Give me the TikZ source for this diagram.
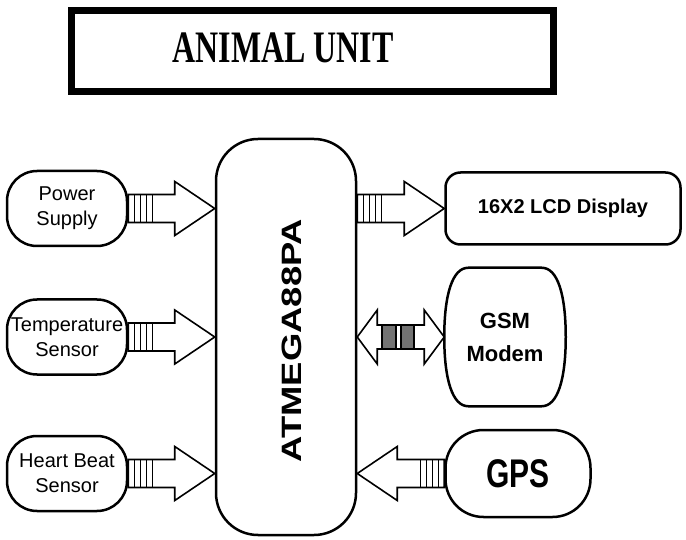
\documentclass[tikz,border=0pt]{standalone}
\usepackage{fontspec}
\setmainfont{Liberation Sans}
\newfontfamily\titlefont{Liberation Serif}
\usetikzlibrary{positioning,calc}
\tikzset{
    block/.style = {
        draw,
        line width=2.5pt,
        align=center,
        inner sep=2pt,
        },
    sensor/.style = {
        block,
        rounded corners=30pt,
        minimum width=120pt,
        minimum height=75pt,
        font=\fontsize{20}{25}\selectfont,
        },
    display/.style = {
        block,
        rounded corners=15pt,
        minimum width=235pt,
        minimum height=72pt,
        font=\bfseries\fontsize{20}{24}\selectfont,
        },
    modem/.style = {
        block,
        draw=none,
        minimum width=119pt,
        minimum height=136pt,
        font=\bfseries\fontsize{22}{33}\selectfont,
        },
    gpsbox/.style = {
        block,
        rounded corners=38pt,
        minimum width=145pt,
        minimum height=87pt,
        font=\bfseries\fontsize{40}{40}\selectfont,
        },
    chip/.style = {
        block,
        rounded corners=42pt,
        minimum width=140pt,
        minimum height=396pt,
        },
    chip label/.style = {
        rotate=90,
        font=\bfseries\fontsize{28}{28}\selectfont,
        },
    title box/.style = {
        draw,
        line width=7pt,
        minimum width=482pt,
        minimum height=81pt,
        },
    title text/.style = {
        font=\titlefont\bfseries\fontsize{45}{45}\selectfont,
        },
    block arrow/.style = {
        draw,
        line width=1.6pt,
        fill=white,
        line join=miter,
        },
    plug bar/.style = {
        line width=1pt,
        },
    plug dark/.style = {
        draw,
        line width=2pt,
        fill=black!55,
        },
}

% plug arrow: start, tip, direction (1 right, -1 left)
\newcommand{\plugarrow}[3]{%
    \draw[block arrow] ($(#1)+(0,-14)$) -- ($(#2)+(#3*-40,-14)$) -- ($(#2)+(#3*-40,-27)$) -- (#2)
        -- ($(#2)+(#3*-40,27)$) -- ($(#2)+(#3*-40,14)$) -- ($(#1)+(0,14)$) -- cycle;
    \foreach \d in {6,12,18,24}
        \draw[plug bar] ($(#1)+(#3*\d,-14)$) -- ++(0,28);
}

\begin{document}
\begin{tikzpicture}[x=1pt,y=-1pt]
    \useasboundingbox (0,0) rectangle (686,540);

    \node[title box] (title) at (312.5,51) {};
    \node[title text] (title label) at (283,48) {\scalebox{0.71}[1]{ANIMAL UNIT}};

    % inputs
    \node[sensor] (ps) at (67,208.5) {Power\\Supply};
    \node[sensor, below=51pt of ps] (temp) {Temperature\\Sensor};
    \node[sensor, below=59pt of temp] (hb) {Heart Beat\\Sensor};

    % controller
    \node[chip, right=86.5pt of temp] (mcu) {};
    \node[chip label] (mcu label) at ([xshift=5.5pt,yshift=-3.5pt]mcu.center) {\scalebox{1.3}[1]{ATMEGA88PA}};

    % outputs
    \node[display, anchor=west, xshift=87pt] (lcd) at (mcu.east |- ps) {16X2 LCD Display};
    \node[modem, right=87pt of mcu] (gsm) {GSM\\Modem};
    \node[gpsbox, anchor=west, xshift=87pt] (gps) at (mcu.east |- hb) {\scalebox{0.75}[1]{GPS}};

    \draw[line width=2.5pt] ([xshift=24pt]gsm.north west) -- ([xshift=-24pt]gsm.north east)
        .. controls ([xshift=-8pt]gsm.north east) and ([yshift=42pt]gsm.east) .. (gsm.east)
        .. controls ([yshift=-42pt]gsm.east) and ([xshift=-8pt]gsm.south east) .. ([xshift=-24pt]gsm.south east)
        -- ([xshift=24pt]gsm.south west)
        .. controls ([xshift=8pt]gsm.south west) and ([yshift=-42pt]gsm.west) .. (gsm.west)
        .. controls ([yshift=42pt]gsm.west) and ([xshift=8pt]gsm.north west) .. ([xshift=24pt]gsm.north west) -- cycle;

    \coordinate (ps tip) at (mcu.west |- ps.east);
    \coordinate (temp tip) at (mcu.west |- temp.east);
    \coordinate (hb tip) at (mcu.west |- hb.east);
    \coordinate (gps tip) at (mcu.east |- gps.west);
    \coordinate (lcd tail) at (mcu.east |- lcd.west);
    \coordinate (gsm tail) at (mcu.east |- gsm.west);

    \plugarrow{ps.east}{ps tip}{1}
    \plugarrow{temp.east}{temp tip}{1}
    \plugarrow{hb.east}{hb tip}{1}
    \plugarrow{lcd tail}{lcd.west}{1}
    \plugarrow{gps.west}{gps tip}{-1}

    % two-way link to modem
    \draw[block arrow] (gsm tail) -- ++(20,-27) -- ++(0,15) -- ($(gsm.west)+(-20,-12)$)
        -- ($(gsm.west)+(-20,-27)$) -- (gsm.west) -- ($(gsm.west)+(-20,27)$)
        -- ($(gsm.west)+(-20,12)$) -- ($(gsm tail)+(20,12)$) -- ($(gsm tail)+(20,27)$) -- cycle;
    \draw[plug dark] ($(gsm tail)+(25,-12)$) rectangle ++(14,24);
    \draw[plug dark] ($(gsm tail)+(44,-12)$) rectangle ++(13,24);
\end{tikzpicture}
\end{document}
